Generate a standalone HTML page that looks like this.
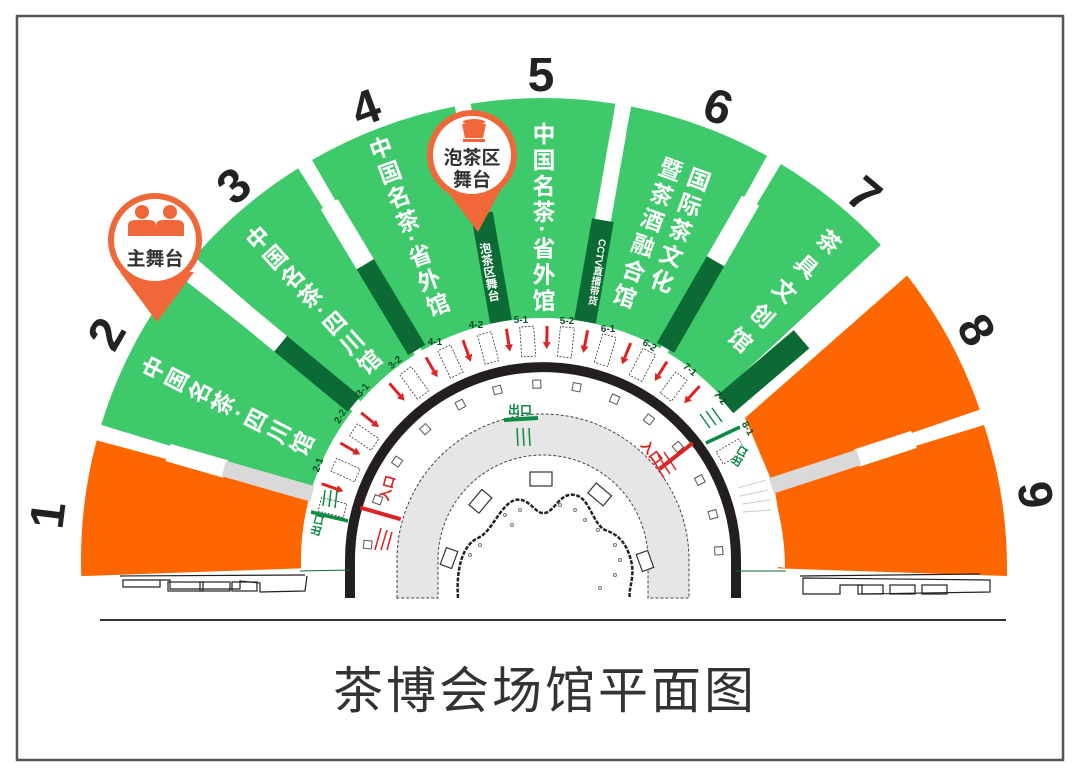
<!DOCTYPE html>
<html><head><meta charset="utf-8"><style>
html,body{margin:0;padding:0;background:#fff;}
svg{display:block;}
.vt{writing-mode:vertical-rl;font-family:"Liberation Sans","Noto Sans CJK SC",sans-serif;font-weight:bold;fill:#fff;}
.num{font-family:"Liberation Sans",sans-serif;font-weight:bold;font-size:48px;fill:#222;text-anchor:middle;}
.cj{font-family:"Liberation Sans","Noto Sans CJK SC",sans-serif;}
</style></head><body>
<svg width="1080" height="777" viewBox="0 0 1080 777" xmlns="http://www.w3.org/2000/svg">
<rect x="17" y="16" width="1046" height="744" fill="#fff" stroke="#555" stroke-width="2.5"/>

<!-- sectors -->
<path d="M96.7,440.4 A462,462 0 0 0 81.3,576.1 L301.1,568.4 A242,242 0 0 1 309.3,497.4 Z" fill="#fe6700"/>
<path d="M178.9,275.5 A462,462 0 0 0 101.2,424.9 L311.6,489.2 A242,242 0 0 1 352.3,411 Z" fill="#3ec96a"/>
<path d="M298.2,168.2 A462,462 0 0 0 194.3,256.9 L360.4,401.2 A242,242 0 0 1 414.8,354.8 Z" fill="#3ec96a"/>
<path d="M454.8,106.5 A462,462 0 0 0 312,160 L422,350.4 A242,242 0 0 1 496.8,322.5 Z" fill="#3ec96a"/>
<path d="M615.3,103.7 A462,462 0 0 0 470.7,103.7 L505.2,321 A242,242 0 0 1 580.8,321 Z" fill="#3ec96a"/>
<path d="M767,155.9 A462,462 0 0 0 631.2,106.5 L589.2,322.5 A242,242 0 0 1 660.3,348.3 Z" fill="#3ec96a"/>
<path d="M880.9,244.9 A462,462 0 0 0 780.9,164 L667.6,352.6 A242,242 0 0 1 720,395 Z" fill="#3ec96a"/>
<path d="M979.8,409.6 A462,462 0 0 0 907.1,275.5 L745,418 L771.8,481.2 Z" fill="#fe6700"/>
<path d="M1007,576 A462,462 0 0 0 984,425 L774.4,489.2 A242,242 0 0 1 778,568.4 Z" fill="#fe6700"/>

<!-- white notches -->
<g fill="#fff">
<g transform="translate(543,560) rotate(-164)"><rect x="330" y="-9" width="60" height="18"/></g>
<g transform="translate(543,560) rotate(-18)"><rect x="330" y="-9" width="60" height="18"/></g>
<g transform="translate(543,560) rotate(-140.5)"><rect x="340" y="-10" width="70" height="20"/></g>
<g transform="translate(543,560) rotate(-121)"><rect x="345" y="-10" width="70" height="20"/></g>
<g transform="translate(543,560) rotate(-60)"><rect x="345" y="-10" width="70" height="20"/></g>
<g transform="translate(543,560) rotate(-40.5)"><rect x="340" y="-12" width="70" height="24"/></g>
<g transform="translate(543,560) rotate(-80)"><rect x="345" y="-8" width="90" height="16"/></g>
</g>
<!-- grey strips -->
<g fill="#d9d9d9">
<g transform="translate(543,560) rotate(-164)"><rect x="240" y="-8" width="92" height="16"/></g>
<g transform="translate(543,560) rotate(-18)"><rect x="240" y="-8" width="92" height="16"/></g>
</g>
<!-- dark green strips -->
<g fill="#0c6b34">
<g transform="translate(543,560) rotate(-140.5)"><rect x="245" y="-10" width="95" height="20"/></g>
<g transform="translate(543,560) rotate(-121)"><rect x="245" y="-10" width="100" height="20"/></g>
<g transform="translate(543,560) rotate(-60)"><rect x="245" y="-10" width="100" height="20"/></g>
<g transform="translate(543,560) rotate(-40.5)"><rect x="240" y="-12" width="100" height="24"/></g>
<g transform="translate(543,560) rotate(-100)"><rect x="242" y="-11" width="110" height="22"/></g>
<g transform="translate(543,560) rotate(-80)"><rect x="242" y="-11" width="103" height="22"/></g>
</g>
<text class="vt" font-size="12" font-weight="normal" text-anchor="middle" transform="translate(489,272) rotate(-10)">泡茶区舞台</text>
<text class="vt" font-size="10" font-weight="normal" text-anchor="middle" transform="translate(596,272) rotate(10)">CCTV直播带货</text>

<!-- white booth ring -->
<path d="M301,568 A242,242 0 0 1 785,568 L740,560 A197,197 0 0 0 346,560 Z" fill="#fff"/>

<!-- sector texts -->
<text class="vt" font-size="23" letter-spacing="3" text-anchor="middle" transform="translate(228,408) rotate(-63)">中国名茶·四川馆</text>
<text class="vt" font-size="23" letter-spacing="3" text-anchor="middle" transform="translate(313,302) rotate(-42)">中国名茶·四川馆</text>
<text class="vt" font-size="23" letter-spacing="3" text-anchor="middle" transform="translate(408,228) rotate(-20)">中国名茶·省外馆</text>
<text class="vt" font-size="23" letter-spacing="3" text-anchor="middle" transform="translate(542,218)">中国名茶·省外馆</text>
<text class="vt" font-size="23" letter-spacing="4" text-anchor="start" transform="translate(660,240) rotate(20)" x="14" y="-82">国际茶文化</text>
<text class="vt" font-size="23" letter-spacing="4" text-anchor="start" transform="translate(660,240) rotate(20)" x="-16" y="-82">暨茶酒融合馆</text>
<text class="vt" font-size="23" letter-spacing="10" text-anchor="middle" transform="translate(780,293) rotate(42)">茶具文创馆</text>

<!-- numbers -->
<text class="num" transform="translate(48,515) rotate(-83)" dy="16">1</text>
<text class="num" transform="translate(107,334) rotate(-60)" dy="16">2</text>
<text class="num" transform="translate(234,186) rotate(-40)" dy="16">3</text>
<text class="num" transform="translate(366,108) rotate(-20)" dy="16">4</text>
<text class="num" transform="translate(541,75)" dy="16">5</text>
<text class="num" transform="translate(718,107) rotate(20)" dy="16">6</text>
<text class="num" transform="translate(864,195) rotate(40)" dy="16">7</text>
<text class="num" transform="translate(976,330) rotate(60)" dy="16">8</text>
<text class="num" transform="translate(1035,495) rotate(82)" dy="16">9</text>

<!-- booth ring details -->
<g stroke="#d22" stroke-width="3" fill="#d22">
<g transform="translate(543,560) rotate(-161)"><line x1="234" y1="0" x2="218" y2="0"/><polygon points="218,-4 218,4 211,0" stroke="none"/></g>
<g transform="translate(543,560) rotate(-150)"><line x1="234" y1="0" x2="218" y2="0"/><polygon points="218,-4 218,4 211,0" stroke="none"/></g>
<g transform="translate(543,560) rotate(-141)"><line x1="234" y1="0" x2="218" y2="0"/><polygon points="218,-4 218,4 211,0" stroke="none"/></g>
<g transform="translate(543,560) rotate(-131)"><line x1="234" y1="0" x2="218" y2="0"/><polygon points="218,-4 218,4 211,0" stroke="none"/></g>
<g transform="translate(543,560) rotate(-120)"><line x1="234" y1="0" x2="218" y2="0"/><polygon points="218,-4 218,4 211,0" stroke="none"/></g>
<g transform="translate(543,560) rotate(-110)"><line x1="234" y1="0" x2="218" y2="0"/><polygon points="218,-4 218,4 211,0" stroke="none"/></g>
<g transform="translate(543,560) rotate(-99)"><line x1="234" y1="0" x2="218" y2="0"/><polygon points="218,-4 218,4 211,0" stroke="none"/></g>
<g transform="translate(543,560) rotate(-89)"><line x1="234" y1="0" x2="218" y2="0"/><polygon points="218,-4 218,4 211,0" stroke="none"/></g>
<g transform="translate(543,560) rotate(-79)"><line x1="234" y1="0" x2="218" y2="0"/><polygon points="218,-4 218,4 211,0" stroke="none"/></g>
<g transform="translate(543,560) rotate(-68)"><line x1="234" y1="0" x2="218" y2="0"/><polygon points="218,-4 218,4 211,0" stroke="none"/></g>
<g transform="translate(543,560) rotate(-58)"><line x1="234" y1="0" x2="218" y2="0"/><polygon points="218,-4 218,4 211,0" stroke="none"/></g>
<g transform="translate(543,560) rotate(-48)"><line x1="234" y1="0" x2="218" y2="0"/><polygon points="218,-4 218,4 211,0" stroke="none"/></g>
</g>
<g fill="#fff" stroke="#333" stroke-width="0.8" stroke-dasharray="2,1.5">
<g transform="translate(543,560) rotate(-166)"><rect x="204" y="-7" width="26" height="14"/></g>
<g transform="translate(543,560) rotate(-155.5)"><rect x="204" y="-7" width="26" height="14"/></g>
<g transform="translate(543,560) rotate(-145.5)"><rect x="204" y="-7" width="26" height="14"/></g>
<g transform="translate(543,560) rotate(-126)"><rect x="204" y="-7" width="30" height="14"/></g>
<g transform="translate(543,560) rotate(-115)"><rect x="204" y="-7" width="30" height="14"/></g>
<g transform="translate(543,560) rotate(-104.5)"><rect x="204" y="-7" width="30" height="14"/></g>
<g transform="translate(543,560) rotate(-94)"><rect x="204" y="-7" width="30" height="14"/></g>
<g transform="translate(543,560) rotate(-84)"><rect x="204" y="-7" width="30" height="14"/></g>
<g transform="translate(543,560) rotate(-73.5)"><rect x="204" y="-7" width="30" height="14"/></g>
<g transform="translate(543,560) rotate(-63)"><rect x="204" y="-7" width="30" height="14"/></g>
<g transform="translate(543,560) rotate(-53)"><rect x="204" y="-7" width="26" height="14"/></g>
<g transform="translate(543,560) rotate(-30)"><rect x="204" y="-7" width="26" height="14"/></g>
</g>
<!-- sub labels -->
<g font-family="Liberation Sans" font-size="10" font-weight="bold" fill="#0c4f27" text-anchor="middle">
<text x="321" y="466" transform="rotate(-70 321 466)">2-1</text>
<text x="343" y="418" transform="rotate(-60 343 418)">2-2</text>
<text x="365" y="392" transform="rotate(-50 365 392)">3-1</text>
<text x="397" y="365" transform="rotate(-40 397 365)">3-2</text>
<text x="435" y="345">4-1</text>
<text x="476" y="328">4-2</text>
<text x="521" y="323">5-1</text>
<text x="567" y="324">5-2</text>
<text x="608" y="332">6-1</text>
<text x="648" y="348" transform="rotate(30 648 348)">6-2</text>
<text x="688" y="372" transform="rotate(40 688 372)">7-1</text>
<text x="718" y="400" transform="rotate(50 718 400)">7-2</text>
<text x="745" y="430" transform="rotate(60 745 430)">8-1</text>
</g>

<!-- inner grey ring -->
<path d="M397,598 L397,560 A146,146 0 0 1 689,560 L689,598 L648,598 L648,560 A105,105 0 0 0 438,560 L438,598 Z" fill="#e6e6e6" stroke="#444" stroke-width="1" stroke-dasharray="3,2"/>
<!-- lake -->
<path d="M458,598 C456,570 462,545 478,538 C492,532 500,505 515,500 C530,497 535,515 545,513 C555,511 560,492 575,495 C590,498 592,523 605,530 C620,535 628,545 632,565 C634,580 628,590 630,598" fill="#fff" stroke="#222" stroke-width="2.5" stroke-dasharray="4,1.5"/>
<g fill="none" stroke="#777" stroke-width="1">
<circle cx="505" cy="515" r="1.5"/><circle cx="520" cy="510" r="1.5"/><circle cx="512" cy="525" r="1.5"/><circle cx="575" cy="510" r="1.5"/><circle cx="585" cy="520" r="1.5"/><circle cx="598" cy="530" r="1.5"/><circle cx="615" cy="545" r="1.5"/><circle cx="620" cy="560" r="1.5"/><circle cx="615" cy="575" r="1.5"/><circle cx="470" cy="555" r="1.5"/><circle cx="480" cy="545" r="1.5"/><circle cx="560" cy="505" r="1.5"/><circle cx="600" cy="588" r="1.5"/>
</g>
<g fill="#fff" stroke="#333" stroke-width="1.2">
<rect x="530" y="472" width="22" height="14"/>
<rect x="470" y="495" width="20" height="13" transform="rotate(-50 480 501)"/>
<rect x="590" y="488" width="20" height="13" transform="rotate(40 600 494)"/>
<rect x="440" y="552" width="18" height="12" transform="rotate(-70 449 558)"/>
<rect x="636" y="555" width="18" height="12" transform="rotate(70 645 561)"/>
</g>
<!-- small booths inside black ring -->
<g fill="#fff" stroke="#555" stroke-width="1">
<g transform="translate(543,560) rotate(-175)"><rect x="172" y="-4" width="8" height="8"/></g>
<g transform="translate(543,560) rotate(-160)"><rect x="172" y="-4" width="8" height="8"/></g>
<g transform="translate(543,560) rotate(-146)"><rect x="172" y="-4" width="8" height="8"/></g>
<g transform="translate(543,560) rotate(-132)"><rect x="172" y="-4" width="8" height="8"/></g>
<g transform="translate(543,560) rotate(-118)"><rect x="172" y="-4" width="8" height="8"/></g>
<g transform="translate(543,560) rotate(-105)"><rect x="172" y="-4" width="8" height="8"/></g>
<g transform="translate(543,560) rotate(-92)"><rect x="172" y="-4" width="8" height="8"/></g>
<g transform="translate(543,560) rotate(-79)"><rect x="172" y="-4" width="8" height="8"/></g>
<g transform="translate(543,560) rotate(-66)"><rect x="172" y="-4" width="8" height="8"/></g>
<g transform="translate(543,560) rotate(-53)"><rect x="172" y="-4" width="8" height="8"/></g>
<g transform="translate(543,560) rotate(-40)"><rect x="172" y="-4" width="8" height="8"/></g>
<g transform="translate(543,560) rotate(-27)"><rect x="172" y="-4" width="8" height="8"/></g>
<g transform="translate(543,560) rotate(-15)"><rect x="172" y="-4" width="8" height="8"/></g>
<g transform="translate(543,560) rotate(-3)"><rect x="172" y="-4" width="8" height="8"/></g>
</g>
<!-- black arc -->
<path d="M350,598 L350,560 A193,193 0 0 1 736,560 L736,598" fill="none" stroke="#231f1f" stroke-width="10"/>

<!-- entrances / exits -->
<g transform="translate(543,560) rotate(-164)"><line x1="148" y1="0" x2="190" y2="0" stroke="#d22" stroke-width="4"/></g>
<g transform="translate(543,560) rotate(-38)"><line x1="148" y1="0" x2="190" y2="0" stroke="#d22" stroke-width="4"/></g>
<text class="cj" x="388" y="502" font-size="13" font-weight="bold" fill="#d22" transform="rotate(-74 388 502)">入口</text>
<text class="cj" x="640" y="445" font-size="13" font-weight="bold" fill="#d22" transform="rotate(52 640 445)">入口</text>
<g stroke="#d22" stroke-width="1.5"><line x1="375" y1="550" x2="381" y2="528"/><line x1="381" y1="550" x2="387" y2="530"/><line x1="387" y1="550" x2="392" y2="532"/><line x1="664" y1="478" x2="652" y2="458"/><line x1="670" y1="474" x2="658" y2="455"/><line x1="676" y1="470" x2="664" y2="452"/></g>
<line x1="504" y1="420" x2="538" y2="418" stroke="#0c8c40" stroke-width="4"/>
<text class="cj" x="508" y="414" font-size="12" font-weight="bold" fill="#0c8c40">出口</text>
<g stroke="#0c8c40" stroke-width="1.5"><line x1="517" y1="428" x2="518" y2="446"/><line x1="523" y1="428" x2="524" y2="446"/><line x1="529" y1="428" x2="530" y2="446"/></g>
<line x1="311" y1="512" x2="348" y2="521" stroke="#0c8c40" stroke-width="3.5"/>
<text class="cj" x="318" y="528" font-size="11" font-weight="bold" fill="#0c8c40" transform="rotate(-76 324 532)">出口</text>
<g stroke="#0c8c40" stroke-width="1.5"><line x1="325" y1="490" x2="323" y2="506"/><line x1="331" y1="490" x2="329" y2="507"/><line x1="337" y1="491" x2="335" y2="508"/></g>
<line x1="706" y1="443" x2="740" y2="427" stroke="#0c8c40" stroke-width="3.5"/>
<text class="cj" x="730" y="465" font-size="11" font-weight="bold" fill="#0c8c40" transform="rotate(-60 736 460)">出口</text>
<g stroke="#0c8c40" stroke-width="1.5"><line x1="700" y1="414" x2="710" y2="428"/><line x1="706" y1="411" x2="716" y2="425"/><line x1="712" y1="408" x2="722" y2="422"/></g>
<g stroke="#ccc" stroke-width="1"><line x1="738" y1="488" x2="766" y2="480"/><line x1="740" y1="496" x2="768" y2="490"/><line x1="742" y1="504" x2="770" y2="500"/><line x1="743" y1="512" x2="771" y2="510"/></g>
<line x1="300" y1="571" x2="350" y2="570" stroke="#0c6b34" stroke-width="1"/>
<line x1="736" y1="571" x2="786" y2="571" stroke="#0c6b34" stroke-width="1"/>

<!-- bottom building outlines -->
<g fill="none" stroke="#222" stroke-width="1.2">
<path d="M120,576 L305,575 M123,580 L123,587 L160,587 L160,580 Z M160,580 L170,580 L170,589 L240,589 L240,581 L260,583 L260,592 L305,591 L307,576"/>
<rect x="168" y="582" width="35" height="9"/><rect x="200" y="582" width="30" height="9"/><rect x="232" y="582" width="25" height="9"/>
<path d="M800,576 L980,574 M803,578 L803,594 L840,594 L840,585 L862,585 L862,594 L990,592 L990,580 Z"/>
<rect x="858" y="585" width="25" height="9"/><rect x="890" y="585" width="25" height="9"/><rect x="922" y="585" width="25" height="9"/>
</g>

<!-- pins -->
<path d="M120,272 L157,322 L194,272 Z" fill="#f0683a"/>
<circle cx="155" cy="240" r="44" fill="#fff" stroke="#f0683a" stroke-width="6"/>
<g fill="#f0683a">
<circle cx="142" cy="212" r="7"/><path d="M128,236 L128,226 Q128,220 135,220 L149,220 Q156,220 156,226 L156,236 Z"/>
<circle cx="170" cy="212" r="7"/><path d="M156,236 L156,226 Q156,220 163,220 L177,220 Q184,220 184,226 L184,236 Z"/>
</g>
<text class="cj" x="155" y="265" font-size="19" font-weight="bold" fill="#333" text-anchor="middle">主舞台</text>
<path d="M440,182 L478,232 L505,182 Z" fill="#f0683a"/>
<circle cx="472" cy="155" r="42" fill="#fff" stroke="#f0683a" stroke-width="6"/>
<g fill="#f0683a"><ellipse cx="474" cy="122" rx="11" ry="3"/><path d="M462,124 L486,124 L483,138 L465,138 Z"/><rect x="463" y="139" width="22" height="3"/></g>
<text class="cj" x="472" y="164" font-size="19" font-weight="bold" fill="#333" text-anchor="middle">泡茶区</text>
<text class="cj" x="472" y="186" font-size="19" font-weight="bold" fill="#333" text-anchor="middle">舞台</text>

<!-- base line and title -->
<line x1="100" y1="620" x2="1006" y2="620" stroke="#333" stroke-width="2"/>
<text class="cj" x="545" y="708" font-size="50" fill="#333" text-anchor="middle" letter-spacing="3">茶博会场馆平面图</text>
</svg>
</body></html>
